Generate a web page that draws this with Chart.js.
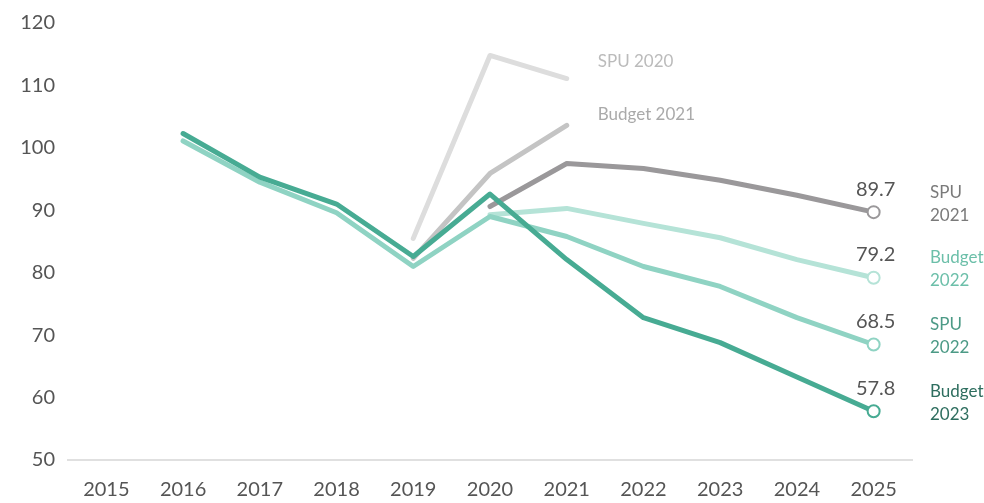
<!DOCTYPE html>
<html>
<head>
<meta charset="utf-8">
<script src="https://cdn.jsdelivr.net/npm/chart.js@4"></script>
<style>
  html, body { margin: 0; padding: 0; background: #fff; }
  #wrap { width: 984px; height: 503px; }
</style>
</head>
<body>
<div id="wrap"><canvas id="lineChart"></canvas></div>
<script>
// categories
const years = ['2015', '2016', '2017', '2018', '2019', '2020', '2021', '2022', '2023', '2024', '2025'];

// series values (null = not part of that forecast)
const budget2023 = [null, 102.3, 95.3, 91.0, 82.6, 92.6, 82.1, 72.8, 68.8, 63.3, 57.8];
const spu2022    = [null, 101.1, 94.5, 89.6, 81.0, 89.0, 85.8, 81.0, 77.8, 72.8, 68.5];
const budget2022 = [null, null, null, null, null, 89.3, 90.3, 87.9, 85.6, 82.1, 79.2];
const spu2021    = [null, null, null, null, null, 90.6, 97.5, 96.7, 94.8, 92.4, 89.7];
const budget2021 = [null, null, null, null, 82.3, 95.9, 103.6, null, null, null, null];
const spu2020    = [null, null, null, null, 85.5, 114.8, 111.1, null, null, null, null];

// y axis ticks
const yTicks = [50, 60, 70, 80, 90, 100, 110, 120];

const FONT = "'Lato', 'Open Sans', sans-serif";

// only the last point gets a ring marker
function endMarker(arr) {
    return arr.map((v, i) => (i === arr.length - 1 && v !== null) ? 6 : 0);
}

function series(label, data, color, textColor, endLabel) {
    return {
        label: label,
        data: data,
        borderColor: color,
        backgroundColor: color,
        borderWidth: 5,
        borderCapStyle: 'round',
        borderJoinStyle: 'round',
        pointRadius: endMarker(data),
        pointBackgroundColor: '#fff',
        pointBorderColor: color,
        pointBorderWidth: 2,
        tension: 0,
        spanGaps: false,
        textColor: textColor,
        endLabel: endLabel
    };
}

// Draws value labels, right-side series names and the two short forecast names
const labelPlugin = {
    id: 'labelPlugin',
    afterDatasetsDraw(chart) {
        const ctx = chart.ctx;
        ctx.save();
        chart.data.datasets.forEach((ds, i) => {
            const meta = chart.getDatasetMeta(i);
            let last = -1;
            ds.data.forEach((v, j) => { if (v !== null) last = j; });
            const pt = meta.data[last];
            if (!pt) return;
            if (ds.endLabel === 'right') {
                // value above the ring
                ctx.font = '20px ' + FONT;
                ctx.fillStyle = '#555';
                ctx.textAlign = 'center';
                ctx.textBaseline = 'middle';
                ctx.fillText(ds.data[last].toFixed(1), pt.x + 2, pt.y - 23);
                // series name, two lines
                const parts = ds.label.split(' ');
                ctx.font = '17px ' + FONT;
                ctx.fillStyle = ds.textColor;
                ctx.textAlign = 'left';
                ctx.fillText(parts[0], 930, pt.y - 20);
                ctx.fillText(parts[1], 930, pt.y + 3);
            } else {
                ctx.font = '17px ' + FONT;
                ctx.fillStyle = ds.textColor;
                ctx.textAlign = 'left';
                ctx.textBaseline = 'middle';
                ctx.fillText(ds.label, pt.x + 31, pt.y + ds.endLabel);
            }
        });
        ctx.restore();
    }
};

const ctx1 = document.getElementById('lineChart').getContext('2d');
new Chart(ctx1, {
    type: 'line',
    data: {
        labels: years,
        datasets: [
            series('Budget 2023', budget2023, '#47ab93', '#2e6e5f', 'right'),
            series('SPU 2022', spu2022, '#8fd3c3', '#4c9a86', 'right'),
            series('Budget 2022', budget2022, '#b5e3d7', '#6cbfa9', 'right'),
            series('SPU 2021', spu2021, '#9a989a', '#7a7a7a', 'right'),
            series('Budget 2021', budget2021, '#c4c4c4', '#aaaaaa', -11),
            series('SPU 2020', spu2020, '#dddddd', '#bbbbbb', -17)
        ]
    },
    options: {
        responsive: true,
        maintainAspectRatio: false,
        animation: false,
        layout: {
            padding: { top: 20, right: 72, bottom: 0, left: 0 }
        },
        scales: {
            x: {
                offset: true,
                grid: { display: false, drawTicks: false },
                border: { display: true, color: '#e0e0e0', width: 2 },
                ticks: {
                    color: '#555',
                    font: { size: 20, family: FONT },
                    padding: 18,
                    maxRotation: 0,
                    autoSkip: false
                },
                afterFit(scale) { scale.height = 43; }
            },
            y: {
                min: 50,
                max: 120,
                afterBuildTicks(scale) {
                    scale.ticks = yTicks.map(v => ({ value: v }));
                },
                grid: { display: false, drawTicks: false },
                border: { display: false },
                ticks: {
                    color: '#555',
                    font: { size: 20, family: FONT, lineHeight: 1 },
                    padding: 13
                },
                afterFit(scale) { scale.width = 68; }
            }
        },
        plugins: {
            legend: { display: false },
            tooltip: { enabled: false }
        }
    },
    plugins: [labelPlugin]
});
</script>
</body>
</html>
